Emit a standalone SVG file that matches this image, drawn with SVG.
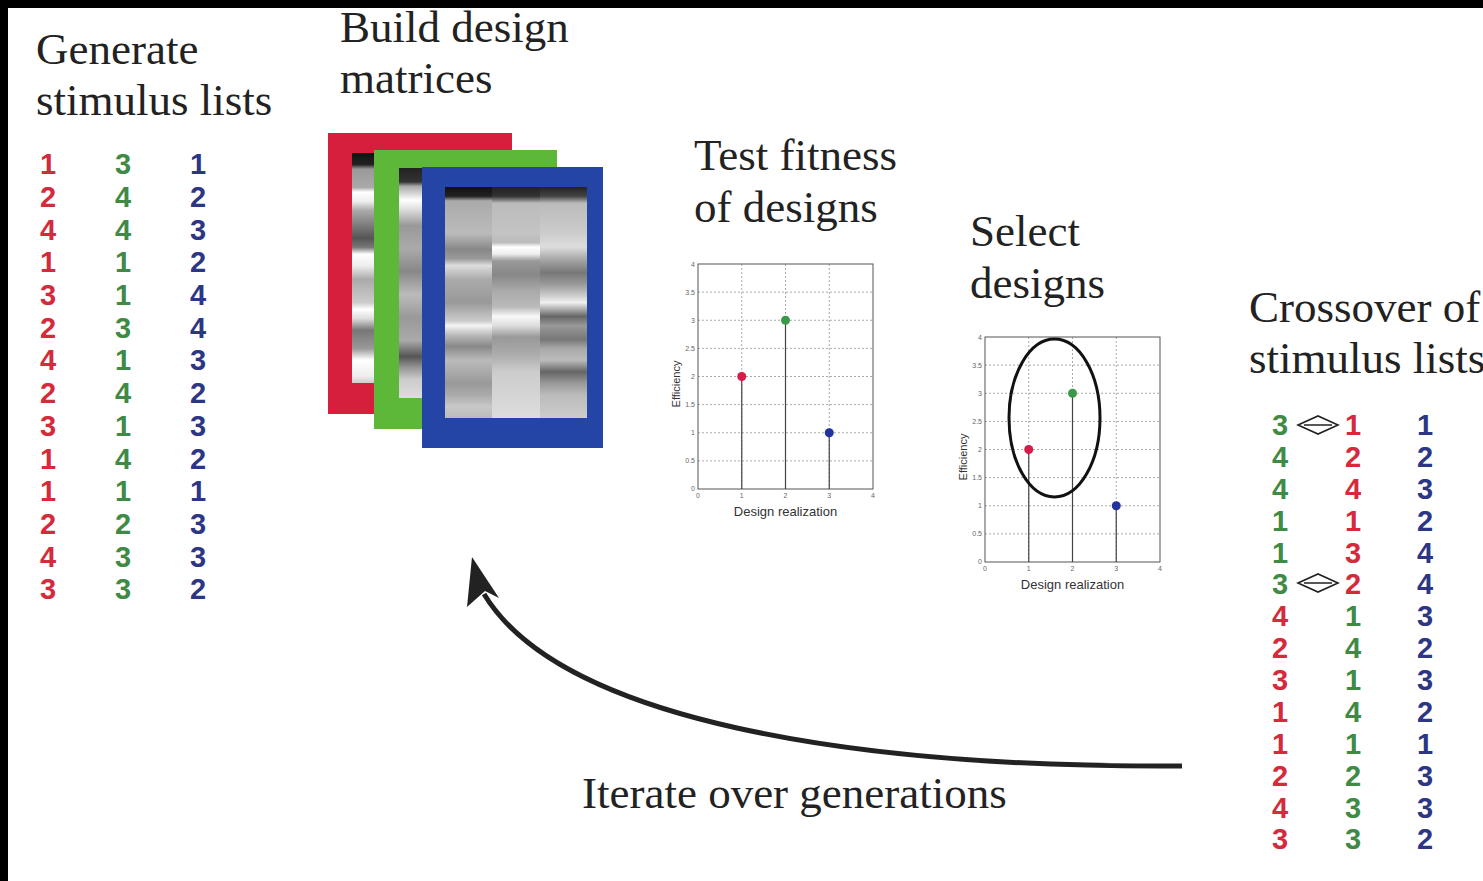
<svg xmlns="http://www.w3.org/2000/svg" width="1483" height="881" viewBox="0 0 1483 881">
<style>
.h{font-family:"Liberation Serif","Times New Roman",serif;font-size:45px;fill:#222}
.n{font-family:"Liberation Sans",Arial,sans-serif;font-size:29px;font-weight:bold;text-anchor:middle}
.r{fill:#d42a3c}.g{fill:#3f8a45}.b{fill:#2c3684}
.grid{stroke:#aaa;stroke-width:1;stroke-dasharray:2 2;fill:none}
.stem{stroke:#444;stroke-width:1.2}
.ax{fill:none;stroke:#555;stroke-width:1}
.tk{font-family:"Liberation Sans",Arial,sans-serif;font-size:7px;fill:#666}
.lab{font-family:"Liberation Sans",Arial,sans-serif;font-size:13px;fill:#333}
.ylab{font-family:"Liberation Sans",Arial,sans-serif;font-size:11px;fill:#333;text-anchor:middle}
.xch{fill:none;stroke:#222;stroke-width:1.6}
</style>
<defs>
<linearGradient id="gr" x1="0" y1="0" x2="0" y2="1">
<stop offset="0" stop-color="#111"/><stop offset="0.05" stop-color="#222"/><stop offset="0.07" stop-color="#999"/><stop offset="0.15" stop-color="#aaa"/><stop offset="0.17" stop-color="#fff"/><stop offset="0.21" stop-color="#eee"/><stop offset="0.25" stop-color="#aaa"/><stop offset="0.37" stop-color="#555"/><stop offset="0.41" stop-color="#777"/><stop offset="0.44" stop-color="#fff"/><stop offset="0.49" stop-color="#eee"/><stop offset="0.55" stop-color="#aaa"/><stop offset="0.65" stop-color="#ccc"/><stop offset="0.68" stop-color="#fff"/><stop offset="0.72" stop-color="#ddd"/><stop offset="0.77" stop-color="#777"/><stop offset="0.85" stop-color="#999"/><stop offset="0.9" stop-color="#fff"/><stop offset="0.97" stop-color="#eee"/><stop offset="1" stop-color="#ccc"/>
</linearGradient>
<linearGradient id="gg" x1="0" y1="0" x2="0" y2="1">
<stop offset="0" stop-color="#222"/><stop offset="0.06" stop-color="#333"/><stop offset="0.08" stop-color="#aaa"/><stop offset="0.14" stop-color="#fff"/><stop offset="0.18" stop-color="#ddd"/><stop offset="0.25" stop-color="#999"/><stop offset="0.35" stop-color="#aaa"/><stop offset="0.45" stop-color="#888"/><stop offset="0.55" stop-color="#bbb"/><stop offset="0.65" stop-color="#999"/><stop offset="0.75" stop-color="#aaa"/><stop offset="0.82" stop-color="#555"/><stop offset="0.87" stop-color="#999"/><stop offset="0.92" stop-color="#ccc"/><stop offset="1" stop-color="#ddd"/>
</linearGradient>
<linearGradient id="gb1" x1="0" y1="0" x2="0" y2="1">
<stop offset="0" stop-color="#111"/><stop offset="0.04" stop-color="#222"/><stop offset="0.06" stop-color="#aaa"/><stop offset="0.2" stop-color="#bbb"/><stop offset="0.27" stop-color="#888"/><stop offset="0.31" stop-color="#999"/><stop offset="0.34" stop-color="#ddd"/><stop offset="0.4" stop-color="#aaa"/><stop offset="0.5" stop-color="#999"/><stop offset="0.58" stop-color="#ccc"/><stop offset="0.6" stop-color="#f4f4f4"/><stop offset="0.64" stop-color="#bbb"/><stop offset="0.69" stop-color="#888"/><stop offset="0.75" stop-color="#bbb"/><stop offset="0.85" stop-color="#999"/><stop offset="0.9" stop-color="#aaa"/><stop offset="0.95" stop-color="#c8c8c8"/><stop offset="1" stop-color="#bbb"/>
</linearGradient>
<linearGradient id="gb2" x1="0" y1="0" x2="0" y2="1">
<stop offset="0" stop-color="#222"/><stop offset="0.04" stop-color="#333"/><stop offset="0.07" stop-color="#bbb"/><stop offset="0.2" stop-color="#c4c4c4"/><stop offset="0.24" stop-color="#bbb"/><stop offset="0.26" stop-color="#fff"/><stop offset="0.29" stop-color="#eee"/><stop offset="0.32" stop-color="#999"/><stop offset="0.38" stop-color="#888"/><stop offset="0.45" stop-color="#aaa"/><stop offset="0.52" stop-color="#bbb"/><stop offset="0.56" stop-color="#f8f8f8"/><stop offset="0.6" stop-color="#ddd"/><stop offset="0.65" stop-color="#999"/><stop offset="0.72" stop-color="#aaa"/><stop offset="0.8" stop-color="#ccc"/><stop offset="1" stop-color="#ddd"/>
</linearGradient>
<linearGradient id="gb3" x1="0" y1="0" x2="0" y2="1">
<stop offset="0" stop-color="#222"/><stop offset="0.04" stop-color="#444"/><stop offset="0.07" stop-color="#bbb"/><stop offset="0.2" stop-color="#ccc"/><stop offset="0.26" stop-color="#ddd"/><stop offset="0.31" stop-color="#aaa"/><stop offset="0.37" stop-color="#777"/><stop offset="0.42" stop-color="#999"/><stop offset="0.47" stop-color="#ccc"/><stop offset="0.5" stop-color="#f0f0f0"/><stop offset="0.53" stop-color="#aaa"/><stop offset="0.56" stop-color="#666"/><stop offset="0.6" stop-color="#999"/><stop offset="0.66" stop-color="#777"/><stop offset="0.7" stop-color="#aaa"/><stop offset="0.75" stop-color="#bbb"/><stop offset="0.8" stop-color="#666"/><stop offset="0.85" stop-color="#999"/><stop offset="0.9" stop-color="#bbb"/><stop offset="1" stop-color="#ccc"/>
</linearGradient>
<g id="plot">
<rect x="0" y="0" width="175" height="225" fill="#fff"/>
<path class="grid" d="M0 28.1H175M0 56.25H175M0 84.4H175M0 112.5H175M0 140.6H175M0 168.75H175M0 196.9H175M43.75 0V225M87.5 0V225M131.25 0V225"/>
<rect class="ax" x="0" y="0" width="175" height="225"/>
<g class="tk" text-anchor="end">
<text x="-3" y="227">0</text><text x="-3" y="199">0.5</text><text x="-3" y="171">1</text><text x="-3" y="143">1.5</text><text x="-3" y="115">2</text><text x="-3" y="87">2.5</text><text x="-3" y="59">3</text><text x="-3" y="31">3.5</text><text x="-3" y="3">4</text>
</g>
<g class="tk" text-anchor="middle">
<text x="0" y="234">0</text><text x="43.75" y="234">1</text><text x="87.5" y="234">2</text><text x="131.25" y="234">3</text><text x="175" y="234">4</text>
</g>
<text class="lab" x="87.5" y="252" text-anchor="middle">Design realization</text>
<text class="ylab" transform="translate(-18,120) rotate(-90)">Efficiency</text>
<line class="stem" x1="43.75" y1="112.5" x2="43.75" y2="225"/>
<line class="stem" x1="87.5" y1="56.25" x2="87.5" y2="225"/>
<line class="stem" x1="131.25" y1="168.75" x2="131.25" y2="225"/>
<circle cx="43.75" cy="112.5" r="4.5" fill="#d81b4a"/>
<circle cx="87.5" cy="56.25" r="4.5" fill="#3a9a4a"/>
<circle cx="131.25" cy="168.75" r="4.5" fill="#2233a0"/>
</g>
</defs>
<rect width="1483" height="881" fill="#fff"/>
<rect x="0" y="0" width="1483" height="8" fill="#000"/>
<rect x="0" y="0" width="8" height="881" fill="#000"/>

<g id="generate">
<text class="h" x="36" y="64">Generate</text>
<text class="h" x="36" y="115">stimulus lists</text>
<g class="n">
<g class="r">
<text x="48" y="174">1</text><text x="48" y="207">2</text><text x="48" y="240">4</text><text x="48" y="272">1</text><text x="48" y="305">3</text><text x="48" y="338">2</text><text x="48" y="370">4</text><text x="48" y="403">2</text><text x="48" y="436">3</text><text x="48" y="469">1</text><text x="48" y="501">1</text><text x="48" y="534">2</text><text x="48" y="567">4</text><text x="48" y="599">3</text>
</g>
<g class="g">
<text x="123" y="174">3</text><text x="123" y="207">4</text><text x="123" y="240">4</text><text x="123" y="272">1</text><text x="123" y="305">1</text><text x="123" y="338">3</text><text x="123" y="370">1</text><text x="123" y="403">4</text><text x="123" y="436">1</text><text x="123" y="469">4</text><text x="123" y="501">1</text><text x="123" y="534">2</text><text x="123" y="567">3</text><text x="123" y="599">3</text>
</g>
<g class="b">
<text x="198" y="174">1</text><text x="198" y="207">2</text><text x="198" y="240">3</text><text x="198" y="272">2</text><text x="198" y="305">4</text><text x="198" y="338">4</text><text x="198" y="370">3</text><text x="198" y="403">2</text><text x="198" y="436">3</text><text x="198" y="469">2</text><text x="198" y="501">1</text><text x="198" y="534">3</text><text x="198" y="567">3</text><text x="198" y="599">2</text>
</g>
</g>
</g>

<g id="build">
<text class="h" x="340" y="42">Build design</text>
<text class="h" x="340" y="93">matrices</text>
<rect x="328" y="133" width="184" height="281" fill="#d61f3c"/>
<rect x="352" y="153" width="140" height="230" fill="url(#gr)"/>
<rect x="374" y="150" width="183" height="279" fill="#5db83a"/>
<rect x="399" y="168" width="140" height="230" fill="url(#gg)"/>
<rect x="422" y="167" width="181" height="281" fill="#2445a6"/>
<rect x="445" y="187" width="47" height="231" fill="url(#gb1)"/>
<rect x="492" y="187" width="48" height="231" fill="url(#gb2)"/>
<rect x="540" y="187" width="47" height="231" fill="url(#gb3)"/>
</g>

<g id="fitness">
<text class="h" x="694" y="170">Test fitness</text>
<text class="h" x="694" y="222">of designs</text>
<use href="#plot" transform="translate(698,264)"/>
</g>

<g id="select">
<text class="h" x="970" y="246">Select</text>
<text class="h" x="970" y="298">designs</text>
<use href="#plot" transform="translate(985,337)"/>
<ellipse cx="1054.5" cy="418" rx="45.5" ry="79" fill="none" stroke="#111" stroke-width="3"/>
</g>

<g id="crossover">
<text class="h" x="1249" y="322">Crossover of</text>
<text class="h" x="1249" y="373">stimulus lists</text>
<g class="n">
<text class="g" x="1280" y="435">3</text><text class="g" x="1280" y="467">4</text><text class="g" x="1280" y="499">4</text><text class="g" x="1280" y="531">1</text><text class="g" x="1280" y="563">1</text><text class="g" x="1280" y="594">3</text><text class="r" x="1280" y="626">4</text><text class="r" x="1280" y="658">2</text><text class="r" x="1280" y="690">3</text><text class="r" x="1280" y="722">1</text><text class="r" x="1280" y="754">1</text><text class="r" x="1280" y="786">2</text><text class="r" x="1280" y="818">4</text><text class="r" x="1280" y="849">3</text>
<text class="r" x="1353" y="435">1</text><text class="r" x="1353" y="467">2</text><text class="r" x="1353" y="499">4</text><text class="r" x="1353" y="531">1</text><text class="r" x="1353" y="563">3</text><text class="r" x="1353" y="594">2</text><text class="g" x="1353" y="626">1</text><text class="g" x="1353" y="658">4</text><text class="g" x="1353" y="690">1</text><text class="g" x="1353" y="722">4</text><text class="g" x="1353" y="754">1</text><text class="g" x="1353" y="786">2</text><text class="g" x="1353" y="818">3</text><text class="g" x="1353" y="849">3</text>
<g class="b">
<text x="1425" y="435">1</text><text x="1425" y="467">2</text><text x="1425" y="499">3</text><text x="1425" y="531">2</text><text x="1425" y="563">4</text><text x="1425" y="594">4</text><text x="1425" y="626">3</text><text x="1425" y="658">2</text><text x="1425" y="690">3</text><text x="1425" y="722">2</text><text x="1425" y="754">1</text><text x="1425" y="786">3</text><text x="1425" y="818">3</text><text x="1425" y="849">2</text>
</g>
</g>
<path class="xch" d="M1298 425L1318 416L1338 425L1318 434Z M1304 425H1332"/>
<path class="xch" d="M1298 583L1318 574L1338 583L1318 592Z M1304 583H1332"/>
</g>

<g id="connectors">
<path d="M1182 766C850 768 560 720 484 594" fill="none" stroke="#222" stroke-width="5"/>
<polygon points="472,557 499,598 485,591 467,607" fill="#222"/>
</g>

<g id="iterate">
<text class="h" x="582" y="808">Iterate over generations</text>
</g>
</svg>
